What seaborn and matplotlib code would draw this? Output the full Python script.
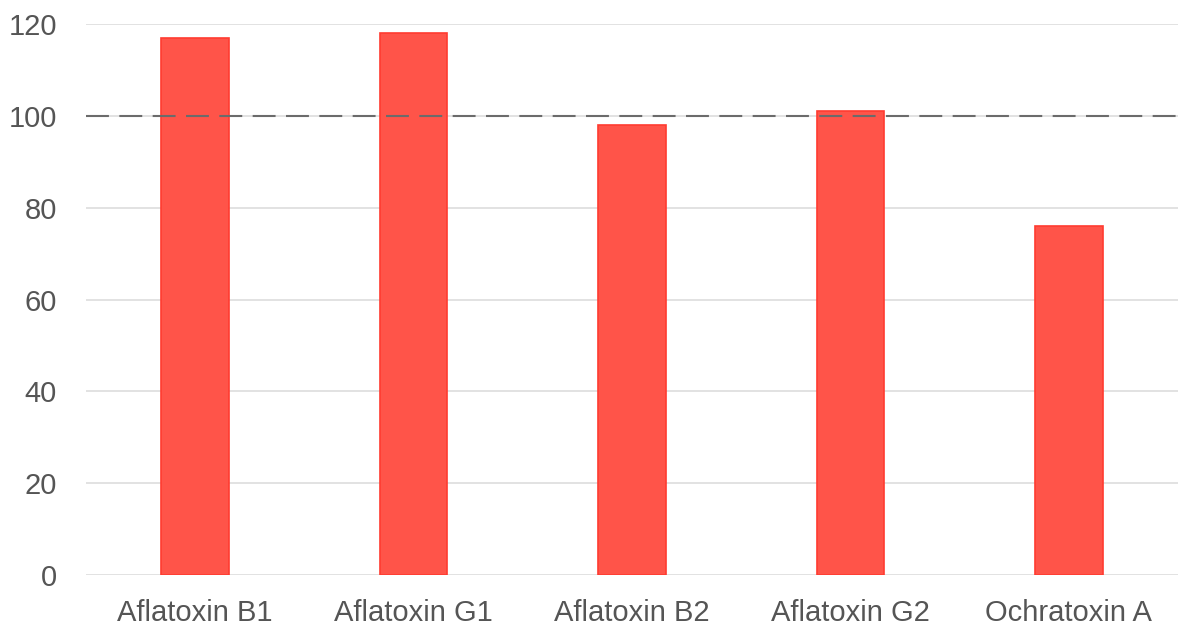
import pandas as pd
import matplotlib.pyplot as plt
import seaborn as sns

# values
toxins = ["Aflatoxin B1", "Aflatoxin G1", "Aflatoxin B2", "Aflatoxin G2", "Ochratoxin A"]
recovery = [117, 118, 98, 101, 76]
reference_level = 100
y_ticks = [0, 20, 40, 60, 80, 100, 120]

df = pd.DataFrame({"toxin": toxins, "recovery": recovery})

sns.set_style("white")
plt.rcParams["font.family"] = ["Liberation Sans", "DejaVu Sans"]

fig = plt.figure(figsize=(11.82, 6.33), dpi=100)
ax = fig.add_axes([0.0728, 0.0916, 0.9238, 0.8704])

# gridlines behind the bars
for t in y_ticks:
    ax.axhline(t, color="#e2e2e2", lw=1.4, zorder=0)

sns.barplot(x="toxin", y="recovery", data=df, color="#ff5449", saturation=1,
            edgecolor="#ff3b30", linewidth=1.2, width=0.31, ax=ax, zorder=2)

# dashed reference line
ax.axhline(reference_level, color="#6b6b6b", lw=1.5, linestyle=(0, (11, 5)), zorder=3)

ax.set_ylim(0, 120)
ax.set_xlim(-0.5, len(toxins) - 0.5)
ax.set_yticks(y_ticks)
ax.set_xlabel("")
ax.set_ylabel("")
for s in ax.spines.values():
    s.set_visible(False)
ax.tick_params(axis="y", length=0, pad=21, labelsize=21, labelcolor="#555555")
ax.tick_params(axis="x", length=0, pad=17, labelsize=21, labelcolor="#555555")

fig.savefig("out.png", dpi=100)
